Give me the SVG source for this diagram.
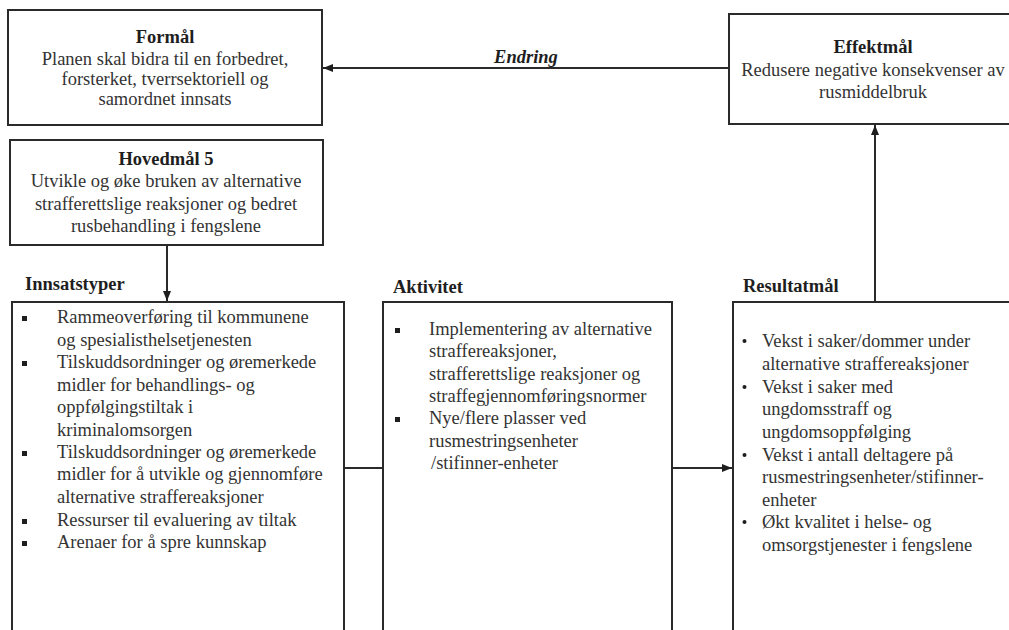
<svg xmlns="http://www.w3.org/2000/svg" width="1009" height="630" viewBox="0 0 1009 630">
<style>
.t{font-family:'Liberation Serif','DejaVu Serif','Noto Serif','Times New Roman',serif;font-size:18.5px;fill:#333}
.h{font-family:'Liberation Serif','DejaVu Serif','Noto Serif','Times New Roman',serif;font-size:18.5px;font-weight:bold;fill:#1e1e1e}
.box{fill:#fff;stroke:#2a2a2a;stroke-width:2}
.c{text-anchor:middle}
.ln{stroke:#2a2a2a;stroke-width:2;fill:none}
.sq{fill:#1e1e1e}
</style>
<defs>
<marker id="ah" markerWidth="10" markerHeight="8" refX="10" refY="4" orient="auto" markerUnits="userSpaceOnUse">
<path d="M0,0 L10,4 L0,8 z" fill="#1e1e1e"/>
</marker>
</defs>
<rect width="1009" height="630" fill="#fff"/>

<g id="connectors">
<line class="ln" x1="729" y1="68" x2="323" y2="68" marker-end="url(#ah)"/>
<text class="h c" x="526" y="63" font-style="italic" font-size="19">Endring</text>
<line class="ln" x1="167" y1="245" x2="167" y2="301" marker-end="url(#ah)"/>
<line class="ln" x1="344" y1="468" x2="383" y2="468"/>
<line class="ln" x1="672" y1="468" x2="732" y2="468" marker-end="url(#ah)"/>
<line class="ln" x1="875" y1="302" x2="875" y2="125" marker-end="url(#ah)"/>
</g>

<g id="formal">
<rect class="box" x="8" y="10" width="314" height="115"/>
<text class="h c" x="165" y="43">Formål</text>
<text class="t c" x="165" y="65">Planen skal bidra til en forbedret,</text>
<text class="t c" x="165" y="85">forsterket, tverrsektoriell og</text>
<text class="t c" x="165" y="105">samordnet innsats</text>
</g>

<g id="effektmal">
<rect class="box" x="729" y="14" width="292" height="110"/>
<text class="h c" x="873" y="53">Effektmål</text>
<text class="t c" x="873" y="76">Redusere negative konsekvenser av</text>
<text class="t c" x="873" y="98">rusmiddelbruk</text>
</g>

<g id="hovedmal">
<rect class="box" x="10" y="140" width="313" height="105"/>
<text class="h c" x="166" y="165">Hovedmål 5</text>
<text class="t c" x="166" y="187">Utvikle og øke bruken av alternative</text>
<text class="t c" x="166" y="210">strafferettslige reaksjoner og bedret</text>
<text class="t c" x="166" y="232">rusbehandling i fengslene</text>
</g>

<g id="innsatstyper">
<text class="h" x="25" y="290">Innsatstyper</text>
<rect class="box" x="12" y="302" width="332" height="340"/>
<rect class="sq" x="22" y="316" width="5" height="5"/>
<rect class="sq" x="22" y="361" width="5" height="5"/>
<rect class="sq" x="22" y="451" width="5" height="5"/>
<rect class="sq" x="22" y="519" width="5" height="5"/>
<rect class="sq" x="22" y="541" width="5" height="5"/>
<text class="t" x="57" y="323">Rammeoverføring til kommunene</text>
<text class="t" x="57" y="346">og spesialisthelsetjenesten</text>
<text class="t" x="57" y="368">Tilskuddsordninger og øremerkede</text>
<text class="t" x="57" y="391">midler for behandlings- og</text>
<text class="t" x="57" y="413">oppfølgingstiltak i</text>
<text class="t" x="57" y="436">kriminalomsorgen</text>
<text class="t" x="57" y="458">Tilskuddsordninger og øremerkede</text>
<text class="t" x="57" y="480">midler for å utvikle og gjennomføre</text>
<text class="t" x="57" y="503">alternative straffereaksjoner</text>
<text class="t" x="57" y="526">Ressurser til evaluering av tiltak</text>
<text class="t" x="57" y="548">Arenaer for å spre kunnskap</text>
</g>

<g id="aktivitet">
<text class="h" x="393" y="293">Aktivitet</text>
<rect class="box" x="383" y="302" width="289" height="340"/>
<rect class="sq" x="395" y="328" width="5" height="5"/>
<rect class="sq" x="395" y="417" width="5" height="5"/>
<text class="t" x="429" y="335">Implementering av alternative</text>
<text class="t" x="429" y="357">straffereaksjoner,</text>
<text class="t" x="429" y="380">strafferettslige reaksjoner og</text>
<text class="t" x="429" y="402">straffegjennomføringsnormer</text>
<text class="t" x="429" y="424">Nye/flere plasser ved</text>
<text class="t" x="429" y="447">rusmestringsenheter</text>
<text class="t" x="431" y="469">/stifinner-enheter</text>
</g>

<g id="resultatmal">
<text class="h" x="743" y="292">Resultatmål</text>
<rect class="box" x="733" y="302" width="290" height="340"/>
<circle class="sq" cx="744.5" cy="341" r="2"/>
<circle class="sq" cx="744.5" cy="387" r="2"/>
<circle class="sq" cx="744.5" cy="455" r="2"/>
<circle class="sq" cx="744.5" cy="522" r="2"/>
<text class="t" x="762" y="347">Vekst i saker/dommer under</text>
<text class="t" x="762" y="370">alternative straffereaksjoner</text>
<text class="t" x="762" y="393">Vekst i saker med</text>
<text class="t" x="762" y="415">ungdomsstraff  og</text>
<text class="t" x="762" y="438">ungdomsoppfølging</text>
<text class="t" x="762" y="461">Vekst i antall deltagere på</text>
<text class="t" x="762" y="483">rusmestringsenheter/stifinner-</text>
<text class="t" x="762" y="506">enheter</text>
<text class="t" x="762" y="528">Økt kvalitet i helse- og</text>
<text class="t" x="762" y="551">omsorgstjenester i fengslene</text>
</g>
</svg>
